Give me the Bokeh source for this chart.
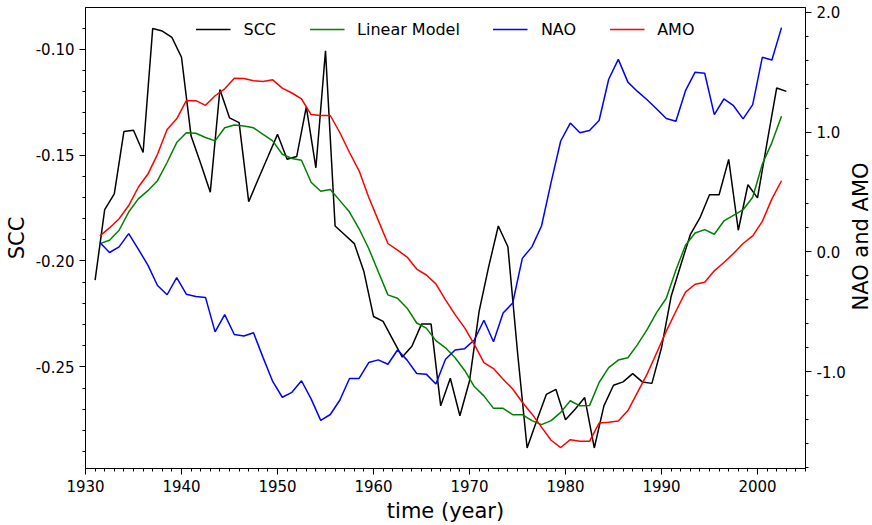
import math
from bokeh.plotting import figure
from bokeh.models import Range1d, LinearAxis, SingleIntervalTicker, NumeralTickFormatter, Legend, LegendItem, Label
from bokeh.embed import file_html
from bokeh.resources import INLINE

# ---- data ----
years_scc = list(range(1931, 2004))
scc = [-0.209, -0.1757, -0.1683, -0.1389, -0.1383, -0.1488, -0.0902, -0.0914, -0.0944, -0.1038,
       -0.141, -0.154, -0.1675, -0.119, -0.1324, -0.1347, -0.172, -0.1613, -0.1508, -0.1402,
       -0.152, -0.1507, -0.1272, -0.156, -0.1007, -0.1835, -0.1876, -0.1918, -0.205, -0.2262,
       -0.2285, -0.237, -0.2454, -0.2403, -0.2298, -0.2298, -0.2684, -0.2554, -0.2731, -0.2567,
       -0.2238, -0.2027, -0.1835, -0.1933, -0.243, -0.2883, -0.2754, -0.263, -0.2606, -0.275,
       -0.27, -0.2645, -0.2883, -0.2684, -0.2587, -0.2571, -0.2532, -0.2571, -0.2578, -0.241,
       -0.2168, -0.202, -0.1876, -0.1797, -0.1687, -0.1687, -0.152, -0.1855, -0.164, -0.1702,
       -0.144, -0.1183, -0.1199]

years_idx = [y + 0.5 for y in range(1931, 2003)]
linear_model = [-0.1918, -0.1902, -0.1855, -0.1769, -0.1707, -0.1668, -0.1621, -0.1535, -0.1441, -0.1394,
                -0.1397, -0.1417, -0.1433, -0.1371, -0.1358, -0.1363, -0.1371, -0.1402, -0.1433, -0.1496,
                -0.1516, -0.1524, -0.1628, -0.1671, -0.1663, -0.1715, -0.1769, -0.1848, -0.1941, -0.2051,
                -0.216, -0.2176, -0.2223, -0.2293, -0.2317, -0.2376, -0.241, -0.2457, -0.2517, -0.2593,
                -0.2637, -0.2696, -0.2696, -0.2726, -0.2726, -0.2754, -0.2773, -0.2754, -0.2715, -0.266,
                -0.2684, -0.2683, -0.2574, -0.2504, -0.2468, -0.2457, -0.2395, -0.2324, -0.2243, -0.2176,
                -0.2043, -0.1926, -0.1868, -0.1852, -0.1874, -0.1811, -0.1785, -0.1758, -0.1699, -0.1543,
                -0.1441, -0.1316]
nao = [0.077, -0.006, 0.041, 0.152, 0.022, -0.111, -0.282, -0.359, -0.215, -0.354,
       -0.373, -0.381, -0.669, -0.525, -0.691, -0.704, -0.677, -0.884, -1.083, -1.215,
       -1.174, -1.077, -1.229, -1.408, -1.359, -1.238, -1.058, -1.058, -0.925, -0.903,
       -0.939, -0.82, -0.905, -1.017, -1.022, -1.105, -0.898, -0.82, -0.809, -0.737,
       -0.572, -0.751, -0.511, -0.428, -0.055, 0.041, 0.215, 0.58, 0.925, 1.075,
       0.994, 1.013, 1.096, 1.441, 1.607, 1.417, 1.339, 1.27, 1.193, 1.113,
       1.09, 1.345, 1.5, 1.491, 1.146, 1.276, 1.22, 1.11, 1.229, 1.624,
       1.601, 1.872]
amo = [0.133, 0.199, 0.276, 0.386, 0.539, 0.649, 0.814, 1.022, 1.11, 1.262,
       1.262, 1.223, 1.303, 1.361, 1.45, 1.447, 1.428, 1.422, 1.436, 1.367,
       1.326, 1.276, 1.146, 1.138, 1.138, 0.994, 0.829, 0.676, 0.456, 0.262,
       0.069, 0.013, -0.044, -0.144, -0.194, -0.268, -0.401, -0.525, -0.636, -0.774,
       -0.925, -0.975, -1.064, -1.146, -1.257, -1.354, -1.464, -1.574, -1.635, -1.569,
       -1.583, -1.583, -1.431, -1.423, -1.414, -1.326, -1.174, -1.022, -0.843, -0.663,
       -0.497, -0.337, -0.271, -0.255, -0.159, -0.09, -0.014, 0.069, 0.133, 0.254,
       0.442, 0.593]

FONT = "DejaVu Sans"

p = figure(width=872, height=525, output_backend="svg", toolbar_location=None,
           x_range=Range1d(1930, 2005), y_range=Range1d(-0.298, -0.0803),
           min_border_left=85, min_border_right=64, min_border_top=7, min_border_bottom=54)
p.extra_y_ranges = {"right": Range1d(-1.81, 2.04)}

p.grid.visible = False
p.outline_line_color = "black"
p.outline_line_width = 1
p.background_fill_color = "white"
p.border_fill_color = "white"

r_scc = p.line(years_scc, scc, line_color="black", line_width=1.5)
r_lm = p.line(years_idx, linear_model, line_color="#008000", line_width=1.5)
r_nao = p.line(years_idx, nao, line_color="#0000ff", line_width=1.5, y_range_name="right")
r_amo = p.line(years_idx, amo, line_color="#ff0000", line_width=1.5, y_range_name="right")

right_axis = LinearAxis(y_range_name="right")
p.add_layout(right_axis, "right")

p.xaxis.ticker = SingleIntervalTicker(interval=10, num_minor_ticks=10)
p.yaxis[0].ticker = SingleIntervalTicker(interval=0.05, num_minor_ticks=5)
p.yaxis[0].formatter = NumeralTickFormatter(format="0.00")
right_axis.ticker = SingleIntervalTicker(interval=1.0, num_minor_ticks=5)
right_axis.formatter = NumeralTickFormatter(format="0.0")

p.xaxis.axis_label = "time (year)"
p.yaxis[0].axis_label = "SCC"

for ax in [p.xaxis[0], p.yaxis[0], right_axis]:
    ax.axis_line_color = "black"
    ax.major_tick_line_color = "black"
    ax.minor_tick_line_color = "black"
    ax.major_tick_in = 0
    ax.major_tick_out = 6
    ax.minor_tick_in = 0
    ax.minor_tick_out = 3
    ax.major_label_text_font = FONT
    ax.major_label_text_font_size = "15px"
    ax.major_label_text_color = "black"
    ax.axis_label_text_font = FONT
    ax.axis_label_text_font_size = "21px"
    ax.axis_label_text_font_style = "normal"
    ax.axis_label_text_color = "black"
    ax.major_label_standoff = 5
    ax.axis_label_standoff = 4

# right-hand axis title, reading bottom-to-top like the left one
right_title = Label(x=12, y=232, x_units="screen", y_units="screen", text="NAO and AMO",
                    angle=math.pi / 2, text_align="center", text_baseline="middle",
                    text_font=FONT, text_font_size="21px", text_color="black")
p.add_layout(right_title, "right")

legend = Legend(items=[LegendItem(label="SCC", renderers=[r_scc]),
                       LegendItem(label="Linear Model", renderers=[r_lm]),
                       LegendItem(label="NAO", renderers=[r_nao]),
                       LegendItem(label="AMO", renderers=[r_amo])],
                orientation="horizontal", location="top_center",
                glyph_width=35, glyph_height=20, label_standoff=13, spacing=33,
                padding=0, margin=12, border_line_alpha=0, background_fill_alpha=0,
                label_text_font=FONT, label_text_font_size="16px", label_text_color="black")
p.add_layout(legend, "center")

open("out.html", "w").write(file_html(p, INLINE))
